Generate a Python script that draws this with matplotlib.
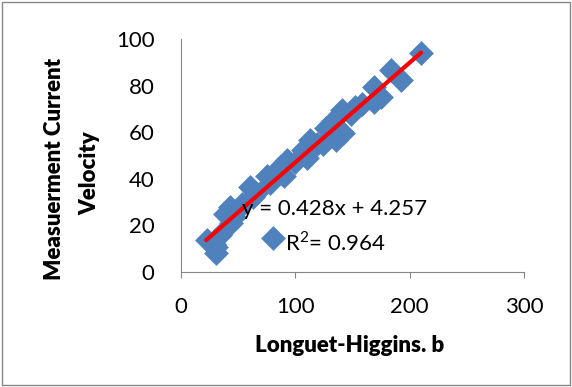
import numpy as np
import matplotlib
matplotlib.use('Agg')
import matplotlib.pyplot as plt
from matplotlib.patches import Rectangle

# values
x_vals = [210, 184, 192, 169, 175, 169, 152, 141, 149, 133, 142, 136, 127,
          113, 119, 107, 110, 92.5, 87, 90, 75, 78, 60, 63, 43, 46, 49,
          38.5, 44, 22.5, 31, 34, 31, 29, 80.5, 100, 124, 158, 66, 53]
y_vals = [93.8, 86.7, 82.4, 79.5, 75.2, 73, 71, 69.5, 68, 65, 59.5, 56.7, 62,
          56.7, 55, 52.4, 48.8, 48, 45, 41, 41, 38, 36.6, 32.3, 28, 23.7, 26.6,
          25, 21, 13.7, 10.9, 15.9, 8, 12, 14.6, 47, 55, 72, 34, 29]
slope, intercept = 0.428, 4.257
fit_range = [22, 210]
eq_text = 'y = 0.428x + 4.257'
r2_text = 'R$^2$= 0.964'

plt.rcParams['font.family'] = ['Lato', 'DejaVu Sans']
plt.rcParams['mathtext.fontset'] = 'custom'
plt.rcParams['mathtext.rm'] = 'Lato'

AXIS_GRAY = '#868686'
BLUE = '#4f81bd'
H = 387

fig = plt.figure(figsize=(5.72, 3.87), dpi=100)
ax = fig.add_axes([181 / 572, 1 - 272 / H, 343 / 572, 233 / H])

ax.scatter(x_vals, y_vals, marker='D', s=160, color=BLUE, linewidths=0, zorder=2)
xf = np.array(fit_range)
ax.plot(xf, slope * xf + intercept, color='#ff0000', linewidth=3,
        solid_capstyle='round', zorder=3)

ax.text(242, H - 209, eq_text, transform=None, fontsize=16, va='center', ha='left')
ax.text(285, H - 243, r2_text, transform=None, fontsize=16, va='center', ha='left')

ax.set_xlim(0, 300)
ax.set_ylim(0, 100)
ax.set_xticks([0, 100, 200, 300])
ax.set_yticks([0, 20, 40, 60, 80, 100])
ax.tick_params(labelsize=16, length=4, color=AXIS_GRAY, direction='out', pad=14)
ax.tick_params(axis='y', length=0, pad=19)
for side in ['top', 'right']:
    ax.spines[side].set_visible(False)
for side in ['left', 'bottom']:
    ax.spines[side].set_color(AXIS_GRAY)

fig.text(350 / 572, 1 - 346 / H, 'Longuet-Higgins. b', fontsize=16,
         fontweight='heavy', ha='center', va='center')
fig.text(55 / 572, 1 - 169 / H, 'Measuerment Current', fontsize=16,
         fontweight='heavy', ha='center', va='center', rotation=90)
fig.text(90 / 572, 1 - 173 / H, 'Velocity', fontsize=16,
         fontweight='heavy', ha='center', va='center', rotation=90)

fig.patches.append(Rectangle((0.004, 0.006), 0.992, 0.988, transform=fig.transFigure,
                             fill=False, edgecolor=AXIS_GRAY, linewidth=1))

fig.savefig('out.png', dpi=100)
